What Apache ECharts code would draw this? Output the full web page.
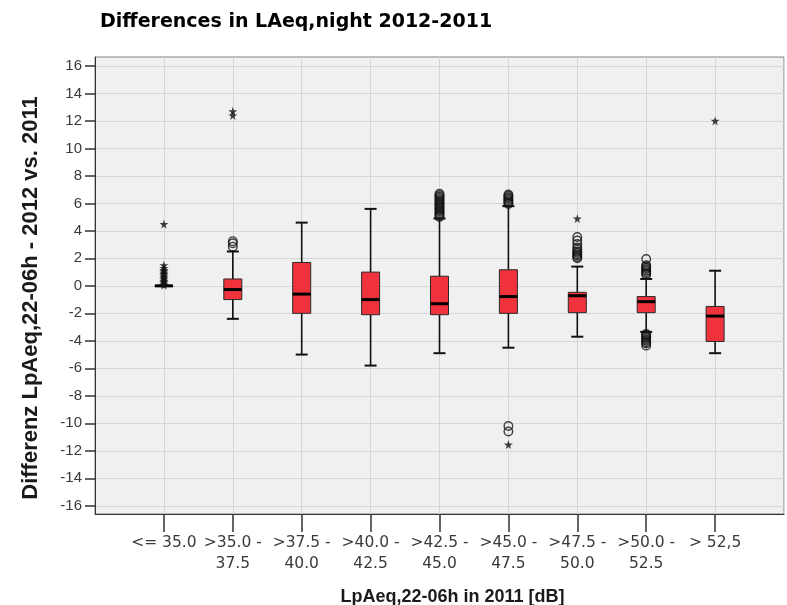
<!DOCTYPE html>
<html>
<head>
<meta charset="utf-8">
<script src="https://cdn.jsdelivr.net/npm/echarts@6/dist/echarts.min.js"></script>
<style>
  html, body { margin: 0; padding: 0; background: #ffffff; }
  #chart { width: 787px; height: 605px; }
</style>
</head>
<body>
<div id="chart"></div>
<script>
// Night-time level bands (2011) and the 2012-2011 difference distribution per band
const categories = [
  '<= 35.0', '>35.0 -\n37.5', '>37.5 -\n40.0', '>40.0 -\n42.5', '>42.5 -\n45.0',
  '>45.0 -\n47.5', '>47.5 -\n50.0', '>50.0 -\n52.5', '> 52,5'
];
const whiskerLow  = [0, -2.4, -5.0, -5.8, -4.9, -4.5, -3.7, -3.35, -4.9];
const quartile1   = [0, -1.0, -2.0, -2.1, -2.1, -2.0, -1.95, -1.95, -4.05];
const medians     = [0, -0.27, -0.6, -1.0, -1.3, -0.78, -0.72, -1.15, -2.2];
const quartile3   = [0, 0.5, 1.7, 1.0, 0.7, 1.17, -0.47, -0.78, -1.5];
const whiskerHigh = [0, 2.5, 4.6, 5.6, 4.9, 5.8, 1.4, 0.5, 1.1];

// outliers (circles) and extreme values (stars), per band
const circleOutliers = [
  [],
  [2.85, 3.1, 3.25],
  [],
  [],
  [5.0, 5.1, 5.2, 5.3, 5.4, 5.5, 5.6, 5.7, 5.8, 5.9, 6.0, 6.1, 6.2, 6.3, 6.4, 6.5, 6.6, 6.7],
  [5.95, 6.05, 6.15, 6.25, 6.35, 6.45, 6.55, 6.65, -10.2, -10.6],
  [2.0, 2.1, 2.2, 2.3, 2.4, 2.5, 2.65, 2.8, 3.05, 3.3, 3.55],
  [0.8, 0.9, 1.0, 1.1, 1.2, 1.3, 1.4, 1.5, 1.95, -3.5, -3.6, -3.7, -3.8, -3.9, -4.0, -4.1, -4.2, -4.35],
  []
];
const starOutliers = [
  [0.05, 0.15, 0.25, 0.35, 0.45, 0.55, 0.65, 0.75, 0.85, 0.95, 1.05, 1.15, 1.3, 1.5, 4.5],
  [12.4, 12.7],
  [],
  [],
  [],
  [-11.55],
  [4.9],
  [],
  [12.0]
];
const yTicks = [-16, -14, -12, -10, -8, -6, -4, -2, 0, 2, 4, 6, 8, 10, 12, 14, 16];

// the category axis carries an empty slot at each end so the bands sit inside the frame
const axisCategories = [''].concat(categories, ['']);

const boxData = categories.map((c, i) => [i + 1, whiskerLow[i], quartile1[i], medians[i], quartile3[i], whiskerHigh[i]]);
const circleData = [];
const starData = [];
circleOutliers.forEach((vals, i) => vals.forEach(v => circleData.push([i + 1, v])));
starOutliers.forEach((vals, i) => vals.forEach(v => starData.push([i + 1, v])));

const STAR = 'path://M50,0 L61,35 L98,35 L68,57 L79,91 L50,70 L21,91 L32,57 L2,35 L39,35 Z';

function renderBox(params, api) {
  const x = api.value(0);
  const pLow = api.coord([x, api.value(1)]);
  const pQ1 = api.coord([x, api.value(2)]);
  const pMed = api.coord([x, api.value(3)]);
  const pQ3 = api.coord([x, api.value(4)]);
  const pHigh = api.coord([x, api.value(5)]);
  const cx = pMed[0];
  const bw = 18, cw = 12;
  const dark = '#111';
  const children = [];
  // whiskers and caps
  children.push({ type: 'line', shape: { x1: cx, y1: pQ1[1], x2: cx, y2: pLow[1] }, style: { stroke: dark, lineWidth: 1.6 } });
  children.push({ type: 'line', shape: { x1: cx, y1: pQ3[1], x2: cx, y2: pHigh[1] }, style: { stroke: dark, lineWidth: 1.6 } });
  children.push({ type: 'line', shape: { x1: cx - cw / 2, y1: pLow[1], x2: cx + cw / 2, y2: pLow[1] }, style: { stroke: dark, lineWidth: 2 } });
  children.push({ type: 'line', shape: { x1: cx - cw / 2, y1: pHigh[1], x2: cx + cw / 2, y2: pHigh[1] }, style: { stroke: dark, lineWidth: 2 } });
  // interquartile box
  children.push({ type: 'rect', shape: { x: cx - bw / 2, y: pQ3[1], width: bw, height: Math.max(pQ1[1] - pQ3[1], 0.5) },
    style: { fill: '#ef323b', stroke: '#2a2a2a', lineWidth: 1 } });
  // median
  children.push({ type: 'line', shape: { x1: cx - bw / 2, y1: pMed[1], x2: cx + bw / 2, y2: pMed[1] }, style: { stroke: '#000', lineWidth: 3 } });
  return { type: 'group', children: children };
}

const chart = echarts.init(document.getElementById('chart'), null, { renderer: 'canvas' });
chart.setOption({
  backgroundColor: '#ffffff',
  animation: false,
  title: {
    text: 'Differences in LAeq,night 2012-2011',
    left: 95,
    top: 8,
    textStyle: { fontFamily: '"DejaVu Sans", sans-serif', fontWeight: 'bold', fontSize: 19, color: '#000' }
  },
  graphic: [{
    type: 'text',
    x: 31,
    y: 298,
    rotation: Math.PI / 2,
    style: {
      text: 'Differenz LpAeq,22-06h - 2012 vs. 2011',
      fontFamily: '"Liberation Sans", Arial, sans-serif',
      fontWeight: 'bold',
      fontSize: 22,
      fill: '#1a1a1a',
      align: 'center',
      verticalAlign: 'middle'
    }
  }],
  grid: {
    left: 95, right: 3, top: 57, bottom: 91,
    outerBoundsMode: 'none',
    containLabel: false,
    show: true, backgroundColor: '#f0f0f0', borderColor: '#808080', borderWidth: 1
  },
  xAxis: {
    type: 'category',
    data: axisCategories,
    boundaryGap: false,
    name: 'LpAeq,22-06h in 2011 [dB]',
    nameLocation: 'middle',
    nameGap: 74,
    nameTextStyle: {
      fontFamily: '"Liberation Sans", Arial, sans-serif', fontWeight: 'bold', fontSize: 18, color: '#1a1a1a',
      padding: [0, 0, 0, 26]
    },
    axisLine: { show: true, onZero: false, lineStyle: { color: '#333', width: 1 } },
    axisTick: {
      show: true, length: 18,
      interval: (idx) => idx > 0 && idx < axisCategories.length - 1,
      lineStyle: { color: '#333', width: 1.5 }
    },
    axisLabel: {
      interval: 0, margin: 18,
      fontFamily: '"DejaVu Sans", sans-serif', fontSize: 15.5, color: '#3a3a3a', lineHeight: 21
    },
    splitLine: { show: true, interval: 0, lineStyle: { color: '#d6d6d6', width: 1 } }
  },
  yAxis: {
    type: 'value',
    min: -16.6, max: 16.65,
    axisLine: { show: true, onZero: false, lineStyle: { color: '#333', width: 1 } },
    axisTick: { show: true, length: 10, customValues: yTicks, lineStyle: { color: '#333', width: 1.5 } },
    axisLabel: { customValues: yTicks, margin: 13, fontFamily: '"Liberation Sans", Arial, sans-serif', fontSize: 15, color: '#3a3a3a' },
    splitLine: { show: true, lineStyle: { color: '#d6d6d6', width: 1 } }
  },
  series: [
    {
      type: 'custom',
      renderItem: renderBox,
      encode: { x: 0, y: [1, 2, 3, 4, 5] },
      data: boxData,
      z: 3
    },
    {
      type: 'scatter',
      data: circleData,
      symbol: 'circle',
      symbolSize: 8.5,
      itemStyle: { color: 'rgba(255,255,255,0)', borderColor: '#111', borderWidth: 1.4 },
      z: 4
    },
    {
      type: 'scatter',
      data: starData,
      symbol: STAR,
      symbolSize: 9,
      itemStyle: { color: '#111' },
      z: 4
    }
  ]
});
</script>
</body>
</html>
